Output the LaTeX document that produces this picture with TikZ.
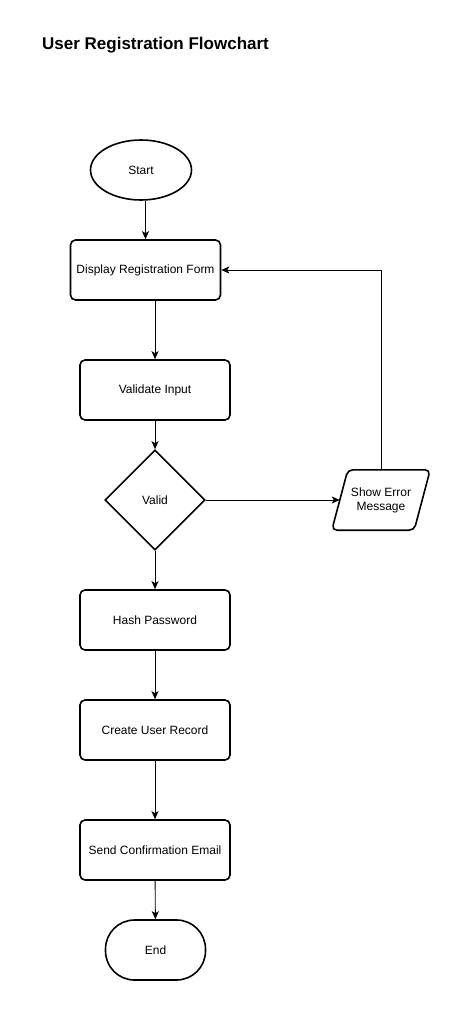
\documentclass[tikz,border=0pt]{standalone}
\usepackage{fontspec}
\setmainfont{Liberation Sans}
\usetikzlibrary{shapes.geometric,arrows.meta}
\begin{document}
\begin{tikzpicture}[x=1pt,y=-1pt,
  every node/.style={font=\fontsize{12}{14}\selectfont, align=center},
  process/.style={draw, line width=1.6pt, rounded corners=5pt, minimum width=150pt, minimum height=60pt, inner sep=0pt},
  terminal/.style={draw, line width=1.6pt, ellipse, minimum width=101pt, minimum height=60pt, inner sep=0pt},
  decision/.style={draw, line width=1.6pt, diamond, minimum width=100pt, minimum height=100pt, inner sep=0pt},
  flow/.style={line width=0.9pt, -{Stealth[length=8pt,width=7pt,inset=2pt]}}
]
\useasboundingbox (0,0) rectangle (461,1011);
\fill[white] (0,0) rectangle (461,1011);

% heading
\node[anchor=west, inner sep=0pt, font=\fontsize{17}{20}\selectfont\bfseries] (title) at (42,45) {User Registration Flowchart};

% main column
\node[terminal] (start) at (141,170) {Start};
\node[process] (disp) at (145.5,270) {Display Registration Form};
\node[process] (val) at (155,390) {Validate Input};
\node[decision] (valid) at (155,500) {Valid};
\node[process] (hash) at (155,620) {Hash Password};
\node[process] (create) at (155,730) {Create User Record};
\node[process] (send) at (155,850) {Send Confirmation Email};
\node[draw, line width=1.6pt, rounded corners=29pt, minimum width=100pt, minimum height=60pt, inner sep=0pt] (end) at (155.5,950) {End};

% error output (parallelogram)
\node[minimum width=98pt, minimum height=60pt, inner sep=0pt] (err) at (381,500) {Show Error\\Message};
\draw[line width=1.6pt, rounded corners=5pt]
  ([xshift=16pt]err.north west) -- (err.north east) -- ([xshift=-16pt]err.south east) -- (err.south west) -- cycle;
\coordinate (errin) at ([xshift=8pt]err.west);

% connectors
\draw[flow] (start.south -| disp.north) -- (disp.north);
\draw[flow] (disp.south -| val.north) -- (val.north);
\draw[flow] (val) -- (valid);
\draw[flow] (valid.east) -- (errin);
\draw[flow] (err.north) |- (disp.east);
\draw[flow] (valid) -- (hash);
\draw[flow] (hash) -- (create);
\draw[flow] (create) -- (send);
\draw[flow] (send) -- (end);
\end{tikzpicture}
\end{document}
